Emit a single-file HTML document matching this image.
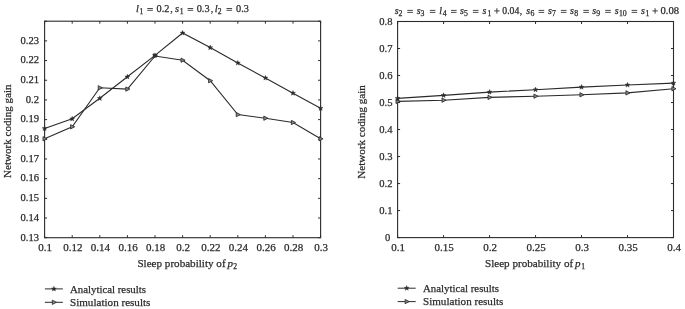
<!DOCTYPE html>
<html><head><meta charset="utf-8"><style>
html,body{margin:0;padding:0;background:#fff;width:685px;height:309px;overflow:hidden}
svg{display:block;will-change:transform}
text{font-family:"Liberation Serif",serif}
</style></head><body>
<svg width="685" height="309" viewBox="0 0 685 309">
<g><rect x="44.6" y="21.2" width="276.00" height="216.50" fill="none" stroke="#2b2b2b" stroke-width="1.1"/><path d="M44.60 237.7v-2.5M44.60 21.2v2.5M72.20 237.7v-2.5M72.20 21.2v2.5M99.80 237.7v-2.5M99.80 21.2v2.5M127.40 237.7v-2.5M127.40 21.2v2.5M155.00 237.7v-2.5M155.00 21.2v2.5M182.60 237.7v-2.5M182.60 21.2v2.5M210.20 237.7v-2.5M210.20 21.2v2.5M237.80 237.7v-2.5M237.80 21.2v2.5M265.40 237.7v-2.5M265.40 21.2v2.5M293.00 237.7v-2.5M293.00 21.2v2.5M320.60 237.7v-2.5M320.60 21.2v2.5M44.6 237.70h2.5M320.6 237.70h-2.5M44.6 218.02h2.5M320.6 218.02h-2.5M44.6 198.34h2.5M320.6 198.34h-2.5M44.6 178.65h2.5M320.6 178.65h-2.5M44.6 158.97h2.5M320.6 158.97h-2.5M44.6 139.29h2.5M320.6 139.29h-2.5M44.6 119.61h2.5M320.6 119.61h-2.5M44.6 99.93h2.5M320.6 99.93h-2.5M44.6 80.25h2.5M320.6 80.25h-2.5M44.6 60.56h2.5M320.6 60.56h-2.5M44.6 40.88h2.5M320.6 40.88h-2.5M44.6 21.20h2.5M320.6 21.20h-2.5" stroke="#2b2b2b" stroke-width="1" fill="none"/><rect x="397.6" y="21.5" width="275.90" height="216.10" fill="none" stroke="#2b2b2b" stroke-width="1.1"/><path d="M397.60 237.6v-2.5M397.60 21.5v2.5M443.58 237.6v-2.5M443.58 21.5v2.5M489.57 237.6v-2.5M489.57 21.5v2.5M535.55 237.6v-2.5M535.55 21.5v2.5M581.53 237.6v-2.5M581.53 21.5v2.5M627.52 237.6v-2.5M627.52 21.5v2.5M673.50 237.6v-2.5M673.50 21.5v2.5M397.6 237.60h2.5M673.5 237.60h-2.5M397.6 210.59h2.5M673.5 210.59h-2.5M397.6 183.57h2.5M673.5 183.57h-2.5M397.6 156.56h2.5M673.5 156.56h-2.5M397.6 129.55h2.5M673.5 129.55h-2.5M397.6 102.54h2.5M673.5 102.54h-2.5M397.6 75.53h2.5M673.5 75.53h-2.5M397.6 48.51h2.5M673.5 48.51h-2.5M397.6 21.50h2.5M673.5 21.50h-2.5" stroke="#2b2b2b" stroke-width="1" fill="none"/><polyline points="44.60,128.50 72.20,118.80 99.80,98.30 127.40,76.80 155.00,55.40 182.60,33.00 210.20,47.60 237.80,63.00 265.40,78.00 293.00,93.20 320.60,108.30" fill="none" stroke="#2b2b2b" stroke-width="1.1"/><polyline points="44.60,138.80 72.20,126.80 99.80,87.80 127.40,89.10 155.00,56.00 182.60,60.20 210.20,80.70 237.80,114.60 265.40,118.20 293.00,122.50 320.60,138.80" fill="none" stroke="#2b2b2b" stroke-width="1.1"/><polyline points="397.60,98.40 443.58,95.40 489.57,92.10 535.55,89.70 581.53,87.10 627.52,85.00 673.50,83.10" fill="none" stroke="#2b2b2b" stroke-width="1.1"/><polyline points="397.60,101.40 443.58,100.20 489.57,97.40 535.55,96.20 581.53,94.80 627.52,92.90 673.50,88.70" fill="none" stroke="#2b2b2b" stroke-width="1.1"/><polygon points="43.00,136.65 43.00,140.95 47.10,138.80" fill="#888" stroke="#2b2b2b" stroke-width="0.85"/><polygon points="70.60,124.65 70.60,128.95 74.70,126.80" fill="#888" stroke="#2b2b2b" stroke-width="0.85"/><polygon points="98.20,85.65 98.20,89.95 102.30,87.80" fill="#888" stroke="#2b2b2b" stroke-width="0.85"/><polygon points="125.80,86.95 125.80,91.25 129.90,89.10" fill="#888" stroke="#2b2b2b" stroke-width="0.85"/><polygon points="153.40,53.85 153.40,58.15 157.50,56.00" fill="#888" stroke="#2b2b2b" stroke-width="0.85"/><polygon points="181.00,58.05 181.00,62.35 185.10,60.20" fill="#888" stroke="#2b2b2b" stroke-width="0.85"/><polygon points="208.60,78.55 208.60,82.85 212.70,80.70" fill="#888" stroke="#2b2b2b" stroke-width="0.85"/><polygon points="236.20,112.45 236.20,116.75 240.30,114.60" fill="#888" stroke="#2b2b2b" stroke-width="0.85"/><polygon points="263.80,116.05 263.80,120.35 267.90,118.20" fill="#888" stroke="#2b2b2b" stroke-width="0.85"/><polygon points="291.40,120.35 291.40,124.65 295.50,122.50" fill="#888" stroke="#2b2b2b" stroke-width="0.85"/><polygon points="319.00,136.65 319.00,140.95 323.10,138.80" fill="#888" stroke="#2b2b2b" stroke-width="0.85"/><polygon points="44.60,125.90 45.24,127.62 47.07,127.70 45.64,128.84 46.13,130.60 44.60,129.59 43.07,130.60 43.56,128.84 42.13,127.70 43.96,127.62" fill="#2b2b2b" stroke="#2b2b2b" stroke-width="0.4"/><polygon points="72.20,116.20 72.84,117.92 74.67,118.00 73.24,119.14 73.73,120.90 72.20,119.89 70.67,120.90 71.16,119.14 69.73,118.00 71.56,117.92" fill="#2b2b2b" stroke="#2b2b2b" stroke-width="0.4"/><polygon points="99.80,95.70 100.44,97.42 102.27,97.50 100.84,98.64 101.33,100.40 99.80,99.39 98.27,100.40 98.76,98.64 97.33,97.50 99.16,97.42" fill="#2b2b2b" stroke="#2b2b2b" stroke-width="0.4"/><polygon points="127.40,74.20 128.04,75.92 129.87,76.00 128.44,77.14 128.93,78.90 127.40,77.89 125.87,78.90 126.36,77.14 124.93,76.00 126.76,75.92" fill="#2b2b2b" stroke="#2b2b2b" stroke-width="0.4"/><polygon points="155.00,52.80 155.64,54.52 157.47,54.60 156.04,55.74 156.53,57.50 155.00,56.49 153.47,57.50 153.96,55.74 152.53,54.60 154.36,54.52" fill="#2b2b2b" stroke="#2b2b2b" stroke-width="0.4"/><polygon points="182.60,30.40 183.24,32.12 185.07,32.20 183.64,33.34 184.13,35.10 182.60,34.09 181.07,35.10 181.56,33.34 180.13,32.20 181.96,32.12" fill="#2b2b2b" stroke="#2b2b2b" stroke-width="0.4"/><polygon points="210.20,45.00 210.84,46.72 212.67,46.80 211.24,47.94 211.73,49.70 210.20,48.69 208.67,49.70 209.16,47.94 207.73,46.80 209.56,46.72" fill="#2b2b2b" stroke="#2b2b2b" stroke-width="0.4"/><polygon points="237.80,60.40 238.44,62.12 240.27,62.20 238.84,63.34 239.33,65.10 237.80,64.09 236.27,65.10 236.76,63.34 235.33,62.20 237.16,62.12" fill="#2b2b2b" stroke="#2b2b2b" stroke-width="0.4"/><polygon points="265.40,75.40 266.04,77.12 267.87,77.20 266.44,78.34 266.93,80.10 265.40,79.09 263.87,80.10 264.36,78.34 262.93,77.20 264.76,77.12" fill="#2b2b2b" stroke="#2b2b2b" stroke-width="0.4"/><polygon points="293.00,90.60 293.64,92.32 295.47,92.40 294.04,93.54 294.53,95.30 293.00,94.29 291.47,95.30 291.96,93.54 290.53,92.40 292.36,92.32" fill="#2b2b2b" stroke="#2b2b2b" stroke-width="0.4"/><polygon points="320.60,105.70 321.24,107.42 323.07,107.50 321.64,108.64 322.13,110.40 320.60,109.39 319.07,110.40 319.56,108.64 318.13,107.50 319.96,107.42" fill="#2b2b2b" stroke="#2b2b2b" stroke-width="0.4"/><polygon points="396.00,99.25 396.00,103.55 400.10,101.40" fill="#888" stroke="#2b2b2b" stroke-width="0.85"/><polygon points="441.98,98.05 441.98,102.35 446.08,100.20" fill="#888" stroke="#2b2b2b" stroke-width="0.85"/><polygon points="487.97,95.25 487.97,99.55 492.07,97.40" fill="#888" stroke="#2b2b2b" stroke-width="0.85"/><polygon points="533.95,94.05 533.95,98.35 538.05,96.20" fill="#888" stroke="#2b2b2b" stroke-width="0.85"/><polygon points="579.93,92.65 579.93,96.95 584.03,94.80" fill="#888" stroke="#2b2b2b" stroke-width="0.85"/><polygon points="625.92,90.75 625.92,95.05 630.02,92.90" fill="#888" stroke="#2b2b2b" stroke-width="0.85"/><polygon points="671.90,86.55 671.90,90.85 676.00,88.70" fill="#888" stroke="#2b2b2b" stroke-width="0.85"/><polygon points="397.60,95.80 398.24,97.52 400.07,97.60 398.64,98.74 399.13,100.50 397.60,99.49 396.07,100.50 396.56,98.74 395.13,97.60 396.96,97.52" fill="#2b2b2b" stroke="#2b2b2b" stroke-width="0.4"/><polygon points="443.58,92.80 444.23,94.52 446.06,94.60 444.62,95.74 445.11,97.50 443.58,96.49 442.06,97.50 442.54,95.74 441.11,94.60 442.94,94.52" fill="#2b2b2b" stroke="#2b2b2b" stroke-width="0.4"/><polygon points="489.57,89.50 490.21,91.22 492.04,91.30 490.61,92.44 491.09,94.20 489.57,93.19 488.04,94.20 488.53,92.44 487.09,91.30 488.92,91.22" fill="#2b2b2b" stroke="#2b2b2b" stroke-width="0.4"/><polygon points="535.55,87.10 536.19,88.82 538.02,88.90 536.59,90.04 537.08,91.80 535.55,90.79 534.02,91.80 534.51,90.04 533.08,88.90 534.91,88.82" fill="#2b2b2b" stroke="#2b2b2b" stroke-width="0.4"/><polygon points="581.53,84.50 582.18,86.22 584.01,86.30 582.57,87.44 583.06,89.20 581.53,88.19 580.01,89.20 580.49,87.44 579.06,86.30 580.89,86.22" fill="#2b2b2b" stroke="#2b2b2b" stroke-width="0.4"/><polygon points="627.52,82.40 628.16,84.12 629.99,84.20 628.56,85.34 629.04,87.10 627.52,86.09 625.99,87.10 626.48,85.34 625.04,84.20 626.87,84.12" fill="#2b2b2b" stroke="#2b2b2b" stroke-width="0.4"/><polygon points="673.50,80.50 674.14,82.22 675.97,82.30 674.54,83.44 675.03,85.20 673.50,84.19 671.97,85.20 672.46,83.44 671.03,82.30 672.86,82.22" fill="#2b2b2b" stroke="#2b2b2b" stroke-width="0.4"/><path d="M147.30 8.5h5.6M147.30 10.3h5.6" stroke="#2b2b2b" stroke-width="0.85"/><path d="M187.60 8.5h5.6M187.60 10.3h5.6" stroke="#2b2b2b" stroke-width="0.85"/><path d="M226.50 8.5h5.6M226.50 10.3h5.6" stroke="#2b2b2b" stroke-width="0.85"/><path d="M407.30 10.4h5.6M407.30 12.4h5.6" stroke="#2b2b2b" stroke-width="0.85"/><path d="M429.80 10.4h5.6M429.80 12.4h5.6" stroke="#2b2b2b" stroke-width="0.85"/><path d="M451.00 10.4h5.6M451.00 12.4h5.6" stroke="#2b2b2b" stroke-width="0.85"/><path d="M472.90 10.4h5.6M472.90 12.4h5.6" stroke="#2b2b2b" stroke-width="0.85"/><path d="M494.20 10.9h5.4M496.90 8.2v5.4" stroke="#2b2b2b" stroke-width="0.9"/><path d="M538.60 10.4h5.6M538.60 12.4h5.6" stroke="#2b2b2b" stroke-width="0.85"/><path d="M560.90 10.4h5.6M560.90 12.4h5.6" stroke="#2b2b2b" stroke-width="0.85"/><path d="M583.30 10.4h5.6M583.30 12.4h5.6" stroke="#2b2b2b" stroke-width="0.85"/><path d="M605.20 10.4h5.6M605.20 12.4h5.6" stroke="#2b2b2b" stroke-width="0.85"/><path d="M631.60 10.4h5.6M631.60 12.4h5.6" stroke="#2b2b2b" stroke-width="0.85"/><path d="M652.40 10.9h5.4M655.10 8.2v5.4" stroke="#2b2b2b" stroke-width="0.9"/><path d="M44.9 288.9h18" stroke="#2b2b2b" stroke-width="1"/><polygon points="53.90,286.30 54.54,288.02 56.37,288.10 54.94,289.24 55.43,291.00 53.90,289.99 52.37,291.00 52.86,289.24 51.43,288.10 53.26,288.02" fill="#2b2b2b" stroke="#2b2b2b" stroke-width="0.4"/><path d="M44.9 302.3h18" stroke="#2b2b2b" stroke-width="1"/><polygon points="52.30,300.15 52.30,304.45 56.40,302.30" fill="#888" stroke="#2b2b2b" stroke-width="0.85"/><path d="M397.7 288.2h18" stroke="#2b2b2b" stroke-width="1"/><polygon points="406.70,285.60 407.34,287.32 409.17,287.40 407.74,288.54 408.23,290.30 406.70,289.29 405.17,290.30 405.66,288.54 404.23,287.40 406.06,287.32" fill="#2b2b2b" stroke="#2b2b2b" stroke-width="0.4"/><path d="M397.7 301.6h18" stroke="#2b2b2b" stroke-width="1"/><polygon points="405.10,299.45 405.10,303.75 409.20,301.60" fill="#888" stroke="#2b2b2b" stroke-width="0.85"/></g>
<g fill="#2b2b2b" stroke="#2b2b2b" stroke-width="0.25" font-family="'Liberation Serif', serif"><text x="39" y="240.50" text-anchor="end" font-size="10.6">0.13</text><text x="39" y="220.82" text-anchor="end" font-size="10.6">0.14</text><text x="39" y="201.14" text-anchor="end" font-size="10.6">0.15</text><text x="39" y="181.45" text-anchor="end" font-size="10.6">0.16</text><text x="39" y="161.77" text-anchor="end" font-size="10.6">0.17</text><text x="39" y="142.09" text-anchor="end" font-size="10.6">0.18</text><text x="39" y="122.41" text-anchor="end" font-size="10.6">0.19</text><text x="39" y="102.73" text-anchor="end" font-size="10.6">0.2</text><text x="39" y="83.05" text-anchor="end" font-size="10.6">0.21</text><text x="39" y="63.36" text-anchor="end" font-size="10.6">0.22</text><text x="39" y="43.68" text-anchor="end" font-size="10.6">0.23</text><text x="45.20" y="250.8" text-anchor="middle" font-size="11">0.1</text><text x="72.80" y="250.8" text-anchor="middle" font-size="11">0.12</text><text x="100.40" y="250.8" text-anchor="middle" font-size="11">0.14</text><text x="128.00" y="250.8" text-anchor="middle" font-size="11">0.16</text><text x="155.60" y="250.8" text-anchor="middle" font-size="11">0.18</text><text x="183.20" y="250.8" text-anchor="middle" font-size="11">0.2</text><text x="210.80" y="250.8" text-anchor="middle" font-size="11">0.22</text><text x="238.40" y="250.8" text-anchor="middle" font-size="11">0.24</text><text x="266.00" y="250.8" text-anchor="middle" font-size="11">0.26</text><text x="293.60" y="250.8" text-anchor="middle" font-size="11">0.28</text><text x="321.20" y="250.8" text-anchor="middle" font-size="11">0.3</text><text x="390.2" y="241.00" text-anchor="end" font-size="10.6">0</text><text x="392.5" y="213.99" text-anchor="end" font-size="10.6">0.1</text><text x="392.5" y="186.97" text-anchor="end" font-size="10.6">0.2</text><text x="392.5" y="159.96" text-anchor="end" font-size="10.6">0.3</text><text x="392.5" y="132.95" text-anchor="end" font-size="10.6">0.4</text><text x="392.5" y="105.94" text-anchor="end" font-size="10.6">0.5</text><text x="392.5" y="78.93" text-anchor="end" font-size="10.6">0.6</text><text x="392.5" y="51.91" text-anchor="end" font-size="10.6">0.7</text><text x="392.5" y="24.90" text-anchor="end" font-size="10.6">0.8</text><text x="398.20" y="250.8" text-anchor="middle" font-size="11">0.1</text><text x="444.18" y="250.8" text-anchor="middle" font-size="11">0.15</text><text x="490.17" y="250.8" text-anchor="middle" font-size="11">0.2</text><text x="536.15" y="250.8" text-anchor="middle" font-size="11">0.25</text><text x="582.13" y="250.8" text-anchor="middle" font-size="11">0.3</text><text x="628.12" y="250.8" text-anchor="middle" font-size="11">0.35</text><text x="674.10" y="250.8" text-anchor="middle" font-size="11">0.4</text><text x="137.4" y="266.9" font-size="11.3" textLength="88.2" lengthAdjust="spacingAndGlyphs">Sleep probability of</text><text x="227.6" y="266.9" font-size="11" font-style="italic">p</text><text x="233.3" y="269.29999999999995" font-size="7.6">2</text><text x="485.0" y="266.6" font-size="11.3" textLength="88.2" lengthAdjust="spacingAndGlyphs">Sleep probability of</text><text x="575.0" y="266.6" font-size="11" font-style="italic">p</text><text x="581.2" y="269.0" font-size="7.6">1</text><text transform="translate(11.3,131.2) rotate(-90)" text-anchor="middle" font-size="11.3" textLength="93.5" lengthAdjust="spacingAndGlyphs">Network coding gain</text><text transform="translate(364.5,131.9) rotate(-90)" text-anchor="middle" font-size="11.3" textLength="93.5" lengthAdjust="spacingAndGlyphs">Network coding gain</text><text x="136.0" y="12.3" font-size="10.3" font-style="italic">l</text><text x="139.5" y="14.0" font-size="7.6">1</text><text x="156.5" y="12.3" font-size="10.3">0.2</text><text x="170.3" y="12.3" font-size="10.3">,</text><text x="175.0" y="12.3" font-size="10.3" font-style="italic">s</text><text x="179.7" y="14.0" font-size="7.6">1</text><text x="196.7" y="12.3" font-size="10.3">0.3</text><text x="210.8" y="12.3" font-size="10.3">,</text><text x="214.7" y="12.3" font-size="10.3" font-style="italic">l</text><text x="217.8" y="14.0" font-size="7.6">2</text><text x="236.0" y="12.3" font-size="10.3">0.3</text><text x="394.7" y="14.1" font-size="9.8" font-style="italic">s</text><text x="398.6" y="15.6" font-size="7.8">2</text><text x="416.8" y="14.1" font-size="9.8" font-style="italic">s</text><text x="420.5" y="15.6" font-size="7.8">3</text><text x="439.3" y="14.1" font-size="9.8" font-style="italic">l</text><text x="442.7" y="15.6" font-size="7.8">4</text><text x="460.1" y="14.1" font-size="9.8" font-style="italic">s</text><text x="463.9" y="15.6" font-size="7.8">5</text><text x="482.5" y="14.1" font-size="9.8" font-style="italic">s</text><text x="487.5" y="15.6" font-size="7.8">1</text><text x="502.3" y="14.1" font-size="9.8" textLength="17" lengthAdjust="spacingAndGlyphs">0.04</text><text x="519.8" y="14.1" font-size="9.8">,</text><text x="526.2" y="14.1" font-size="9.8" font-style="italic">s</text><text x="530.4" y="15.6" font-size="7.8">6</text><text x="548.1" y="14.1" font-size="9.8" font-style="italic">s</text><text x="551.9" y="15.6" font-size="7.8">7</text><text x="570.1" y="14.1" font-size="9.8" font-style="italic">s</text><text x="574.3" y="15.6" font-size="7.8">8</text><text x="592.3" y="14.1" font-size="9.8" font-style="italic">s</text><text x="596.2" y="15.6" font-size="7.8">9</text><text x="614.7" y="14.1" font-size="9.8" font-style="italic">s</text><text x="618.9" y="15.6" font-size="7.8">10</text><text x="641.0" y="14.1" font-size="9.8" font-style="italic">s</text><text x="645.6" y="15.6" font-size="7.8">1</text><text x="660.5" y="14.1" font-size="9.8" textLength="18.6" lengthAdjust="spacingAndGlyphs">0.08</text><text x="70.0" y="292.50" font-size="11.3" textLength="76.0" lengthAdjust="spacingAndGlyphs">Analytical results</text><text x="70.0" y="305.90" font-size="11.3" textLength="80.4" lengthAdjust="spacingAndGlyphs">Simulation results</text><text x="423.0" y="291.80" font-size="11.3" textLength="76.0" lengthAdjust="spacingAndGlyphs">Analytical results</text><text x="423.0" y="305.20" font-size="11.3" textLength="80.4" lengthAdjust="spacingAndGlyphs">Simulation results</text></g>
</svg>
</body></html>
